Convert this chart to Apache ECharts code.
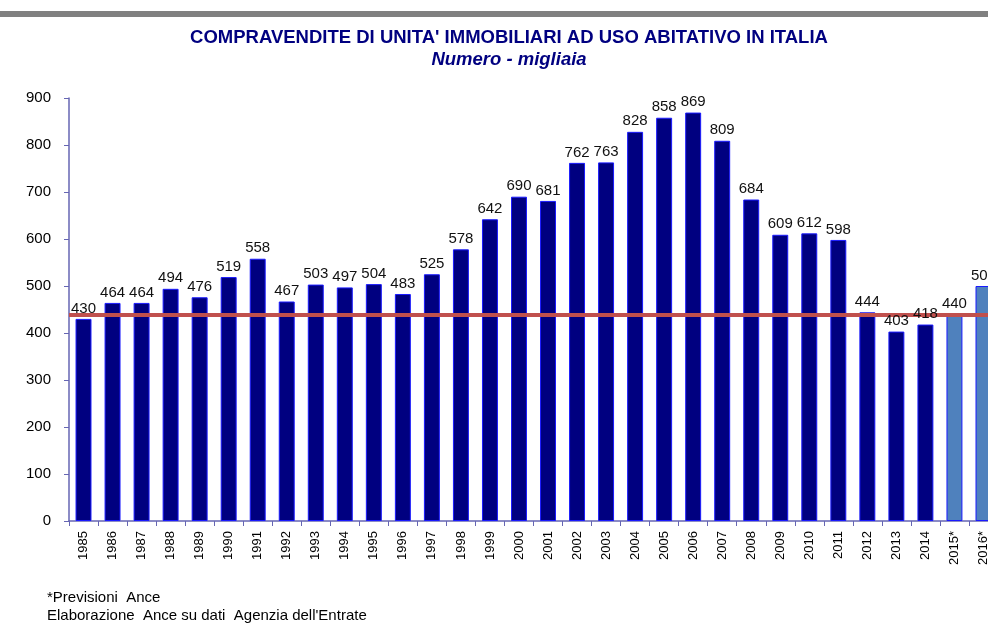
<!DOCTYPE html>
<html><head><meta charset="utf-8">
<script src="https://cdn.jsdelivr.net/npm/echarts@6/dist/echarts.min.js"></script>
<style>html,body{margin:0;padding:0;background:#fff}#c{width:988px;height:630px}</style>
</head><body><div id="c"></div>
<script>
const years = ['1985','1986','1987','1988','1989','1990','1991','1992','1993','1994','1995','1996','1997','1998','1999','2000','2001','2002','2003','2004','2005','2006','2007','2008','2009','2010','2011','2012','2013','2014','2015*','2016*'];
const values = [430,464,464,494,476,519,558,467,503,497,504,483,525,578,642,690,681,762,763,828,858,869,809,684,609,612,598,444,403,418,440,500];
const forecast = [0,0,0,0,0,0,0,0,0,0,0,0,0,0,0,0,0,0,0,0,0,0,0,0,0,0,0,0,0,0,1,1];
const referenceLevel = 439;
const yTicks = {min:0, max:900, interval:100};

const chart = echarts.init(document.getElementById('c'), null, {renderer:'canvas'});
const font = 'Liberation Sans, Arial, sans-serif';
chart.setOption({
  animation:false,
  title:{
    text:"COMPRAVENDITE DI UNITA' IMMOBILIARI AD USO ABITATIVO IN ITALIA",
    subtext:'Numero - migliaia',
    left:504, textAlign:'center', top:23, itemGap:3,
    textStyle:{fontFamily:font, fontSize:18.5, fontWeight:'bold', color:'#000080'},
    subtextStyle:{fontFamily:font, fontSize:18.5, fontWeight:'bold', fontStyle:'italic', color:'#000080'}
  },
  graphic:[
    {type:'rect', left:0, top:11, shape:{width:988, height:6}, style:{fill:'#808080'}},
    {type:'text', left:47, top:590, style:{text:'*Previsioni  Ance', font:'15px Liberation Sans', fill:'#000'}},
    {type:'text', left:47, top:608, style:{text:"Elaborazione  Ance su dati  Agenzia dell'Entrate", font:'15px Liberation Sans', fill:'#000'}}
  ],
  grid:{left:69, right:-10, top:98, bottom:109, containLabel:false, outerBoundsMode:'none'},
  xAxis:{
    type:'category', data:years,
    axisLine:{lineStyle:{color:'#6666b3', width:1.5}},
    axisTick:{show:true, length:5, lineStyle:{color:'#6666b3'}},
    axisLabel:{rotate:90, fontFamily:font, fontSize:13, color:'#000', margin:10, interval:0}
  },
  yAxis:{
    type:'value', min:yTicks.min, max:yTicks.max, interval:yTicks.interval,
    splitLine:{show:false},
    axisLine:{show:true, lineStyle:{color:'#6666b3', width:1.5}},
    axisTick:{show:true, length:5, lineStyle:{color:'#6666b3'}},
    axisLabel:{fontFamily:font, fontSize:15, color:'#000', margin:18}
  },
  series:[{
    type:'bar', barWidth:'55%',
    data: values.map((v,i)=>({value:v, itemStyle:{color: forecast[i] ? '#4F81BD' : '#000080'}})),
    itemStyle:{borderColor:'#1a1aff', borderWidth:1},
    markLine:{
      silent:true, symbol:['none','none'],
      label:{show:false},
      lineStyle:{color:'#C0504D', width:4, type:'solid'},
      data:[{yAxis:referenceLevel}]
    },
    z:2
  },{
    type:'bar', barWidth:'55%', barGap:'-100%',
    data: values,
    itemStyle:{color:'rgba(0,0,0,0)'},
    label:{show:true, position:'top', distance:3, fontFamily:font, fontSize:15, color:'#111'},
    silent:true,
    z:5
  }]
});
</script>
</body></html>
